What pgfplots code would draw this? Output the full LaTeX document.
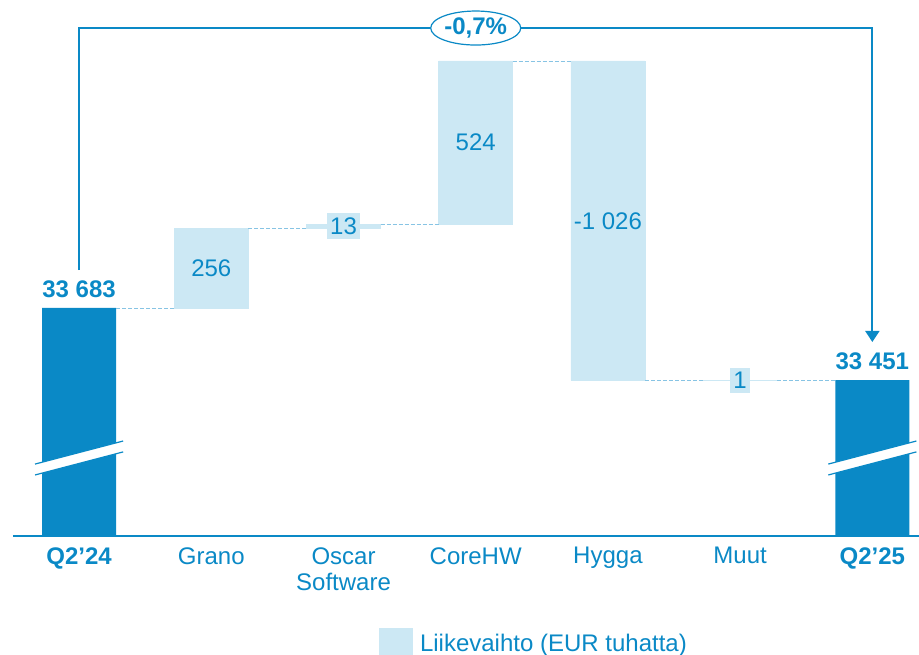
\documentclass[border=0pt]{standalone}
\usepackage{fontspec}
\setmainfont{Liberation Sans}
\usepackage{pgfplots}
\pgfplotsset{compat=1.18}
\usepackage{pgfplotstable}
\usetikzlibrary{arrows.meta,shapes.geometric}
\definecolor{dkb}{RGB}{10,137,198}
\definecolor{ltb}{RGB}{204,232,244}
\definecolor{cnb}{RGB}{135,196,228}

\pgfplotstableread{
x base delta total
0 0 0 33683
1 33683 256 0
2 33939 13 0
3 33952 524 0
4 33450 1026 0
5 33450 1 0
6 0 0 33451
}\wf

\pgfplotsset{wfdims/.style={scale only axis, width=453pt, height=268pt,
  xmin=-0.5, xmax=6.353, ymin=32951, ymax=34672}}

\begin{document}
\begin{tikzpicture}[font=\fontsize{12}{13}\selectfont]
\begin{axis}[wfdims, name=main, ybar stacked, bar width=0.56, clip mode=individual,
  axis x line*=bottom, axis y line=none,
  x axis line style={dkb, line width=0.8pt, -},
  xtick={0,...,6},
  xticklabels={\textbf{Q2’24}, Grano, Oscar\\Software, CoreHW, Hygga, Muut, \textbf{Q2’25}},
  major tick length=0pt,
  xticklabel style={align=center, text=dkb, anchor=north, inner sep=0pt, yshift=-5.5pt,
    font=\fontsize{12}{13}\selectfont},
  legend style={at={(0.404,-0.2)}, anchor=west, draw=none, fill=none, inner sep=0pt,
    text=dkb, font=\fontsize{12}{13}\selectfont,
    /tikz/every odd column/.append style={column sep=1.5pt}},
  legend cell align=left,
  legend image code/.code={\fill[ltb] (0pt,-5pt) rectangle (16.5pt,8pt);},
  ]
\addplot[fill=none, draw=none, forget plot] table[x=x,y=base]{\wf};
\addplot[fill=ltb, draw=ltb, line width=0.3pt] table[x=x,y=delta]{\wf};
\addlegendentry{Liikevaihto (EUR tuhatta)}
\addplot[fill=dkb, draw=none, forget plot] table[x=x,y=total]{\wf};
\end{axis}

\begin{axis}[wfdims, hide axis, clip=false]
% connectors
\addplot[cnb, dash pattern=on 2pt off 1pt, line width=0.5pt] coordinates {(0.28,33683) (0.72,33683)};
\addplot[cnb, dash pattern=on 2pt off 1pt, line width=0.5pt] coordinates {(1.28,33939) (1.72,33939)};
\addplot[cnb, dash pattern=on 2pt off 1pt, line width=0.5pt] coordinates {(2.28,33952) (2.72,33952)};
\addplot[cnb, dash pattern=on 2pt off 1pt, line width=0.5pt] coordinates {(3.28,34476) (3.72,34476)};
\addplot[cnb, dash pattern=on 2pt off 1pt, line width=0.5pt] coordinates {(4.28,33450) (4.72,33450)};
\addplot[cnb, dash pattern=on 2pt off 1pt, line width=0.5pt] coordinates {(5.28,33451) (5.72,33451)};
% axis breaks
\addplot[fill=white, draw=none] coordinates {(-0.333,33147) (0.333,33221) (0.333,33256) (-0.333,33182)} -- cycle;
\addplot[dkb, line width=0.6pt] coordinates {(-0.333,33147) (0.333,33221)};
\addplot[dkb, line width=0.6pt] coordinates {(-0.333,33182) (0.333,33256)};
\addplot[fill=white, draw=none] coordinates {(5.667,33147) (6.333,33221) (6.333,33256) (5.667,33182)} -- cycle;
\addplot[dkb, line width=0.6pt] coordinates {(5.667,33147) (6.333,33221)};
\addplot[dkb, line width=0.6pt] coordinates {(5.667,33182) (6.333,33256)};
% change arrow
\addplot[dkb, line width=1pt, -{Triangle[width=7pt,length=5.5pt]}] coordinates {(0,33805) (0,34582) (6,34582) (6,33574)};
\node[ellipse, draw=dkb, line width=0.6pt, fill=white, minimum width=45pt, minimum height=17pt,
  inner sep=0pt, text=dkb, font=\bfseries\fontsize{12}{13}\selectfont] at (axis cs:3,34582) {-0,7\%};
% totals
\node[anchor=base, text=dkb, font=\bfseries\fontsize{12}{13}\selectfont, yshift=5.5pt] at (axis cs:0,33683) {33 683};
\node[anchor=base, text=dkb, font=\bfseries\fontsize{12}{13}\selectfont, yshift=5.5pt] at (axis cs:6,33451) {33 451};
% deltas
\node[text=dkb] at (axis cs:1,33811) {256};
\node[text=dkb, fill=ltb, inner xsep=1.6pt, inner ysep=2.2pt] at (axis cs:2,33945.5) {13};
\node[text=dkb] at (axis cs:3,34214) {524};
\node[text=dkb] at (axis cs:4,33963) {-1 026};
\node[text=dkb, fill=ltb, inner xsep=1.6pt, inner ysep=2.2pt] at (axis cs:5,33450.5) {1};
\end{axis}
\pgfresetboundingbox
\path ([xshift=-6.5pt,yshift=-59pt]main.south west) rectangle (main.north east);
\end{tikzpicture}
\end{document}
